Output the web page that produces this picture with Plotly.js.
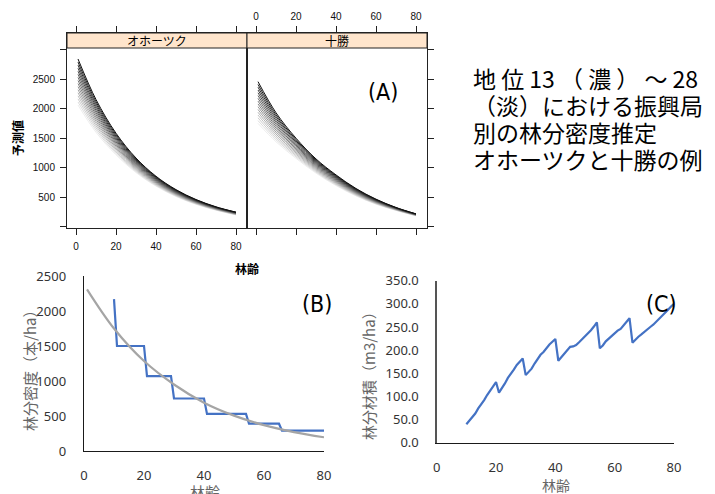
<!DOCTYPE html>
<html><head><meta charset="utf-8">
<script src="https://cdn.plot.ly/plotly-3.0.1.min.js"></script>
<style>html,body{margin:0;padding:0;background:#fff}#chart{width:715px;height:494px}</style>
</head><body><div id="chart"></div>
<script>
// ---------- Panel A data (lattice, site index 13 (dark) .. 28 (light)) ----------
const ages = [1, 10, 20, 30, 40, 50, 60, 70, 80];
const siteIndex = [13,14,15,16,17,18,19,20,21,22,23,24,25,26,27,28];
const panelNames = ['オホーツク', '十勝'];
const okhotskDensity = [
  [2838,2153,1584,1165,857,631,464,341,251],
  [2786,2116,1560,1149,846,623,459,337,248],
  [2734,2079,1535,1132,835,616,453,333,245],
  [2682,2042,1511,1116,824,608,448,330,242],
  [2631,2006,1487,1100,812,600,442,326,239],
  [2579,1969,1463,1083,801,592,437,322,236],
  [2527,1932,1438,1067,790,585,432,318,233],
  [2475,1895,1414,1051,779,577,426,314,230],
  [2423,1858,1390,1034,768,569,421,311,226],
  [2371,1821,1366,1018,757,561,415,307,223],
  [2319,1784,1341,1002,746,554,410,303,220],
  [2268,1747,1317,985,735,546,405,299,217],
  [2216,1711,1293,969,723,538,399,295,214],
  [2164,1674,1268,953,712,530,394,292,211],
  [2112,1637,1244,936,701,523,388,288,208],
  [2060,1600,1220,920,690,515,383,284,205]
];
const tokachiDensity = [
  [2455,1930,1500,1150,880,650,470,330,222],
  [2408,1897,1477,1134,868,642,464,327,220],
  [2361,1865,1455,1118,856,633,459,323,218],
  [2314,1832,1432,1102,844,625,453,320,216],
  [2267,1799,1409,1086,832,617,447,317,213],
  [2220,1767,1387,1070,820,608,442,313,211],
  [2173,1734,1364,1054,808,600,436,310,209],
  [2126,1701,1341,1038,796,592,430,307,207],
  [2079,1669,1319,1022,784,583,425,303,205],
  [2032,1636,1296,1006,772,575,419,300,203],
  [1985,1603,1273,990,760,567,413,297,201],
  [1938,1571,1251,974,748,558,408,293,199],
  [1891,1538,1228,958,736,550,402,290,196],
  [1844,1505,1205,942,724,542,396,287,194],
  [1797,1473,1183,926,712,533,391,283,192],
  [1750,1440,1160,910,700,525,385,280,190]
];
const ageTicks = [0, 20, 40, 60, 80];
const densityTicks = [0, 500, 1000, 1500, 2000, 2500, 3000];
const densityTickText = ['', '500', '1000', '1500', '2000', '2500', ''];

// ---------- Panel B data ----------
const stepAge = [10, 11, 20, 21, 29, 30, 40, 41, 54, 55, 65, 66, 80];
const stepDensity = [2170, 1500, 1500, 1070, 1070, 750, 750, 530, 530, 390, 390, 290, 290];
const curveAge = [1, 10, 20, 30, 40, 50, 60, 70, 80];
const curveDensity = [2310, 1750, 1285, 950, 690, 505, 370, 270, 196];

// ---------- Panel C data ----------
const volAge = [10,11,12,13,14,15,16,17,18,19,20,21,22,23,24,25,26,27,28,29,30,31,32,33,34,35,36,37,38,39,40,41,42,43,44,45,46,47,48,49,50,51,52,53,54,55,56,57,58,59,60,61,62,63,64,65,66,67,68,69,70,71,72,73,74,75,76,77,78,79,80];
const volume = [40,47,54,63,74,82,92,103,113,121,131,108,117,128,140,148,158,168,176,182,146,153,160,171,182,190,196,205,212,218,224,177,185,193,200,207,208,211,217,223,230,237,243,251,260,204,210,219,225,230,236,242,246,253,261,269,216,223,229,234,240,246,250,255,261,268,274,280,287,294,300];

const titleLines = ['地 位 13 （ 濃 ） ～ 28', '（淡）における振興局', '別の林分密度推定', 'オホーツクと十勝の例'];

// ---------- helpers (pixel -> paper) ----------
const W = 715, H = 494;
const px = v => v / W;
const py = v => 1 - v / H;
const JP = '"Noto Sans CJK JP", "Noto Sans", sans-serif';
const LAT = '"Liberation Sans", Arial, sans-serif';
const XL = '"Noto Sans", "Open Sans", sans-serif';
const LBL = '"DejaVu Sans Condensed", "Liberation Sans Narrow", "Noto Sans CJK JP", sans-serif';

function grayFor(k, n) {
  const v = Math.round(15 + k * 222 / (n - 1));
  return `rgb(${v},${v},${v})`;
}

const traces = [];
[okhotskDensity, tokachiDensity].forEach((set, p) => {
  for (let k = set.length - 1; k >= 0; k--) {
    traces.push({
      x: ages, y: set[k], type: 'scatter', mode: 'lines',
      name: panelNames[p] + ' ' + siteIndex[k],
      line: { shape: 'spline', smoothing: 1, width: 1, color: grayFor(k, set.length) },
      xaxis: p ? 'x2' : 'x', yaxis: p ? 'y2' : 'y', hoverinfo: 'skip'
    });
  }
});
traces.push({ x: stepAge, y: stepDensity, type: 'scatter', mode: 'lines',
  line: { color: '#4472C4', width: 2.2 }, xaxis: 'x3', yaxis: 'y3' });
traces.push({ x: curveAge, y: curveDensity, type: 'scatter', mode: 'lines',
  line: { color: '#A5A5A5', width: 2.2, shape: 'spline', smoothing: 1 }, xaxis: 'x3', yaxis: 'y3' });
traces.push({ x: volAge, y: volume, type: 'scatter', mode: 'lines',
  line: { color: '#4472C4', width: 2.2 }, xaxis: 'x4', yaxis: 'y4' });

// lattice axes
const aYRange = [-17, 3277];
const latX = {
  range: [-4.5, 85.5], tickvals: ageTicks, ticks: 'outside', ticklen: 6, tickwidth: 1,
  tickcolor: '#222', showline: true, linecolor: '#222', linewidth: 1, mirror: 'allticks',
  showgrid: false, zeroline: false, tickfont: { family: LAT, size: 10, color: '#111' }
};
const latY = {
  range: aYRange, tickvals: densityTicks, ticktext: densityTickText, ticks: 'outside', ticklen: 6,
  tickwidth: 1, tickcolor: '#222', showline: true, linecolor: '#222', linewidth: 1,
  showgrid: false, zeroline: false, tickfont: { family: LAT, size: 10, color: '#111' }
};
const xlX = {
  range: [0, 80], dtick: 20, showline: true, linecolor: '#1a1a1a', linewidth: 1.3, ticks: '',
  showgrid: false, zeroline: false, tickfont: { family: XL, size: 13, color: '#333' }
};

const layout = {
  width: W, height: H, autosize: false, showlegend: false,
  margin: { l: 0, r: 0, t: 0, b: 0 },
  paper_bgcolor: '#fff', plot_bgcolor: 'rgba(0,0,0,0)',
  xaxis: Object.assign({}, latX, { domain: [px(67), px(247)], anchor: 'y', side: 'bottom', ticklabelstandoff: 3 }),
  yaxis: Object.assign({}, latY, { domain: [py(228), py(33)], anchor: 'x', side: 'left', mirror: true, ticklabelstandoff: 3 }),
  xaxis2: Object.assign({}, latX, { domain: [px(247), px(427)], anchor: 'y2', side: 'top', ticklabelstandoff: 2 }),
  yaxis2: Object.assign({}, latY, { domain: [py(228), py(33)], anchor: 'x2', side: 'right', mirror: true, showticklabels: false }),
  xaxis3: Object.assign({}, xlX, { domain: [px(84), px(324)], anchor: 'y3', ticklabelstandoff: 12 }),
  yaxis3: { domain: [py(451), py(276)], anchor: 'x3', range: [0, 2500], dtick: 500,
    showline: true, linecolor: '#1a1a1a', linewidth: 1.3, ticks: '', showgrid: false, zeroline: false,
    tickfont: { family: XL, size: 13, color: '#333' }, ticklabelstandoff: 14 },
  xaxis4: Object.assign({}, xlX, { domain: [px(436.7), px(674)], anchor: 'y4', ticklabelstandoff: 12 }),
  yaxis4: { domain: [py(442.7), py(280.7)], anchor: 'x4', range: [0, 350], dtick: 50, tickformat: '.1f',
    showline: true, linecolor: '#555', linewidth: 1.3, ticks: '', showgrid: false, zeroline: false,
    tickfont: { family: XL, size: 13, color: '#333' }, ticklabelstandoff: 14 },
  shapes: [
    { type: 'rect', xref: 'paper', yref: 'paper', x0: px(67), x1: px(247), y0: py(48), y1: py(33),
      fillcolor: '#FFE5CC', line: { color: '#222', width: 1 } },
    { type: 'rect', xref: 'paper', yref: 'paper', x0: px(247), x1: px(427), y0: py(48), y1: py(33),
      fillcolor: '#FFE5CC', line: { color: '#222', width: 1 } }
  ],
  annotations: []
};

function ann(text, x, y, opts) {
  layout.annotations.push(Object.assign({
    text: text, xref: 'paper', yref: 'paper', x: px(x), y: py(y), showarrow: false,
    xanchor: 'center', yanchor: 'middle', font: { family: JP, size: 12, color: '#000' }
  }, opts || {}));
}
ann(panelNames[0], 157, 40.5, { font: { family: JP, size: 12, color: '#000' } });
ann(panelNames[1], 337, 40.5, { font: { family: JP, size: 12, color: '#000' } });
ann('予測値', 17, 138, { textangle: -90, font: { family: JP, size: 12, color: '#000', weight: 'bold' } });
ann('林齢', 247, 268, { font: { family: JP, size: 12, color: '#000', weight: 'bold' } });
ann('(A)', 383, 92, { font: { family: LBL, size: 23, color: '#000' } });
ann('(B)', 317, 304, { font: { family: LBL, size: 23, color: '#000' } });
ann('(C)', 661, 304, { font: { family: LBL, size: 23, color: '#000' } });
ann('林分密度（本/ha）', 29, 367, { textangle: -90, font: { family: JP, size: 15, color: '#666' } });
ann('林齢', 205, 491, { font: { family: JP, size: 15, color: '#666' } });
ann('林分材積（m3/ha）', 368, 372, { textangle: -90, font: { family: JP, size: 15, color: '#666' } });
ann('林齢', 556, 485, { font: { family: JP, size: 14, color: '#666' } });
const lineY = [78, 105, 132, 159];
titleLines.forEach((t, i) => ann(t, 471, lineY[i], { xanchor: 'left', font: { family: JP, size: 23, color: '#000' } }));

Plotly.newPlot('chart', traces, layout, { staticPlot: true, displayModeBar: false });
</script>
</body></html>
